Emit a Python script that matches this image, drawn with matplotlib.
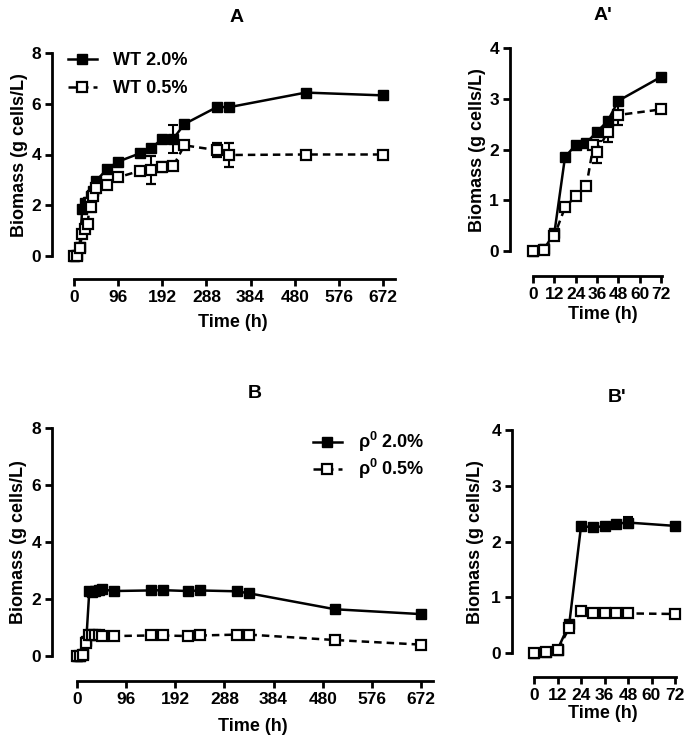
import numpy as np
import matplotlib
matplotlib.use("Agg")
import matplotlib.pyplot as plt
from matplotlib.lines import Line2D

plt.rcParams['font.family'] = ['Liberation Sans', 'DejaVu Sans']
plt.rcParams['font.weight'] = 'bold'
plt.rcParams['mathtext.fontset'] = 'custom'
plt.rcParams['mathtext.rm'] = 'Liberation Sans'
plt.rcParams['mathtext.it'] = 'Liberation Sans:italic'
plt.rcParams['mathtext.bf'] = 'Liberation Sans:bold'

# WT, 2.0% glucose
wt20_t = [0, 6, 12, 18, 24, 30, 36, 42, 48, 72, 96, 144, 168, 192, 216, 240, 312, 336, 504, 672]
wt20_y = [0, 0.03, 0.35, 1.85, 2.09, 2.13, 2.35, 2.56, 2.96, 3.43, 3.72, 4.05, 4.25, 4.62, 4.62, 5.2, 5.88, 5.86, 6.44, 6.33]
wt20_e = [0, 0, 0.03, 0.05, 0.03, 0.03, 0.05, 0.05, 0.05, 0.05, 0.05, 0.05, 0.05, 0.1, 0.55, 0.1, 0.05, 0.05, 0.05, 0.05]

# WT, 0.5% glucose
wt05_t = [0, 6, 12, 18, 24, 30, 34, 36, 42, 48, 72, 96, 144, 168, 192, 216, 240, 312, 336, 504, 672]
wt05_y = [0, 0.01, 0.3, 0.86, 1.08, 1.28, 2.08, 1.95, 2.35, 2.68, 2.79, 3.1, 3.36, 3.38, 3.5, 3.55, 4.36, 4.17, 3.98, 4.0, 4.0]
wt05_e = [0, 0, 0, 0.05, 0.05, 0.05, 0.05, 0.22, 0.2, 0.2, 0.05, 0.05, 0.05, 0.55, 0.2, 0.05, 0.05, 0.27, 0.47, 0.05, 0.05]

# rho0, 2.0% and 0.5% glucose
rho_t = [0, 6, 12, 18, 24, 30, 36, 42, 48, 72, 144, 168, 216, 240, 312, 336, 504, 672]
rho20_y = [0, 0.01, 0.06, 0.52, 2.27, 2.26, 2.27, 2.32, 2.34, 2.28, 2.3, 2.31, 2.28, 2.3, 2.27, 2.2, 1.64, 1.47]
rho20_e = [0, 0, 0, 0.03, 0.03, 0.03, 0.03, 0.03, 0.1, 0.03, 0.03, 0.03, 0.03, 0.03, 0.03, 0.03, 0.03, 0.03]
rho05_y = [0, 0.01, 0.05, 0.45, 0.75, 0.72, 0.72, 0.72, 0.71, 0.7, 0.72, 0.72, 0.7, 0.72, 0.75, 0.75, 0.56, 0.4]
rho05_e = [0, 0, 0, 0.03, 0.03, 0.04, 0.04, 0.04, 0.04, 0.04, 0.05, 0.05, 0.04, 0.04, 0.04, 0.04, 0.03, 0.03]

long_ticks = [0, 96, 192, 288, 384, 480, 576, 672]
short_ticks = [0, 12, 24, 36, 48, 60, 72]

W, H = 689, 746
fig = plt.figure(figsize=(W / 100, H / 100), dpi=100)

solid_style = dict(color='black', lw=1.8, marker='s', ms=7.5, mfc='black', mec='black')
open_style = dict(color='black', lw=1.8, ls=(0, (3, 2)), marker='s', ms=6.5, mfc='white',
                  mec='black', mew=1.6)


def fx(px):
    return px / W


def fy(py):
    return 1 - py / H


def make_axes(yax_px, x0_px, x1_px, xend_px, xmax, y0_px, ytop_px, ymax, off_px):
    # pixel layout -> axes with matching data limits
    sc = (x1_px - x0_px) / xmax
    xl = -(x0_px - yax_px) / sc
    xr = xmax + (xend_px - x1_px) / sc
    ax = fig.add_axes([fx(yax_px), fy(y0_px), (xend_px - yax_px) / W, (y0_px - ytop_px) / H])
    ax.set_xlim(xl, xr)
    ax.set_ylim(0, ymax)
    for s in ['top', 'right']:
        ax.spines[s].set_visible(False)
    ax.spines['left'].set_linewidth(2)
    ax.spines['bottom'].set_linewidth(2)
    ax.spines['bottom'].set_position(('outward', off_px * 0.72))
    ax.spines['bottom'].set_bounds(0, xr)
    ax.spines['left'].set_bounds(0, ymax)
    ax.tick_params(direction='out', length=5, width=2, labelsize=12.5, pad=3)
    ax.patch.set_visible(False)
    return ax


def draw(ax, t, y, e, filled, tmax):
    t = np.array(t)
    y = np.array(y)
    e = np.array(e)
    m = t <= tmax
    style = solid_style if filled else open_style
    ax.errorbar(t[m], y[m], yerr=e[m], capsize=3.5, elinewidth=1.5, capthick=1.5,
                clip_on=False, zorder=3 if filled else 4, **style)


def add_legend(ax, labels, x, y, spacing):
    handles = [Line2D([], [], **solid_style), Line2D([], [], **open_style)]
    ax.legend(handles, labels, loc='upper left', bbox_to_anchor=(fx(x), fy(y)),
              bbox_transform=fig.transFigure, frameon=False, fontsize=13, handlelength=1.6,
              handletextpad=0.9, labelspacing=spacing, borderpad=0, borderaxespad=0)


# A
axA = make_axes(52, 74, 383, 395, 672, 256, 53, 8, 23)
draw(axA, wt20_t, wt20_y, wt20_e, True, 672)
draw(axA, wt05_t, wt05_y, wt05_e, False, 672)
axA.set_xticks(long_ticks)
axA.set_yticks([0, 2, 4, 6, 8])
add_legend(axA, ['WT 2.0%', 'WT 0.5%'], 68, 52, 0.6)

# A'
axA2 = make_axes(510, 533, 661, 662, 72, 251, 48, 4, 25)
draw(axA2, wt20_t, wt20_y, wt20_e, True, 72)
draw(axA2, wt05_t, wt05_y, wt05_e, False, 72)
axA2.set_xticks(short_ticks)
axA2.set_yticks([0, 1, 2, 3, 4])

# B
axB = make_axes(52, 77, 421, 433, 672, 656, 428, 8, 25)
draw(axB, rho_t, rho20_y, rho20_e, True, 672)
draw(axB, rho_t, rho05_y, rho05_e, False, 672)
axB.set_xticks(long_ticks)
axB.set_yticks([0, 2, 4, 6, 8])
add_legend(axB, [r'$\mathrm{\rho}^{\mathbf{0}}$ 2.0%', r'$\mathrm{\rho}^{\mathbf{0}}$ 0.5%'],
           313, 430, 0.18)

# B'
axB2 = make_axes(512, 534, 675, 676, 72, 653, 430, 4, 24)
draw(axB2, rho_t, rho20_y, rho20_e, True, 72)
draw(axB2, rho_t, rho05_y, rho05_e, False, 72)
axB2.set_xticks(short_ticks)
axB2.set_yticks([0, 1, 2, 3, 4])

# labels and titles
labels = [
    (axA, 28, 155, 233, 314, 'A', 237, 18),
    (axA2, 486, 150, 603, 306, "A'", 603, 16),
    (axB, 27, 542, 253, 718, 'B', 255, 393),
    (axB2, 484, 542, 603, 705, "B'", 617, 397),
]
for ax, ylx, yly, xlx, xly, title, tx, ty in labels:
    ax.set_ylabel('Biomass (g cells/L)', fontsize=13, fontweight='bold')
    ax.yaxis.set_label_coords(fx(ylx), fy(yly), transform=fig.transFigure)
    ax.set_xlabel('Time (h)', fontsize=13, fontweight='bold')
    ax.xaxis.set_label_coords(fx(xlx), fy(xly), transform=fig.transFigure)
    fig.text(fx(tx), fy(ty), title, ha='center', va='center', fontsize=14, fontweight='bold')

plt.savefig('out.png', dpi=100)
